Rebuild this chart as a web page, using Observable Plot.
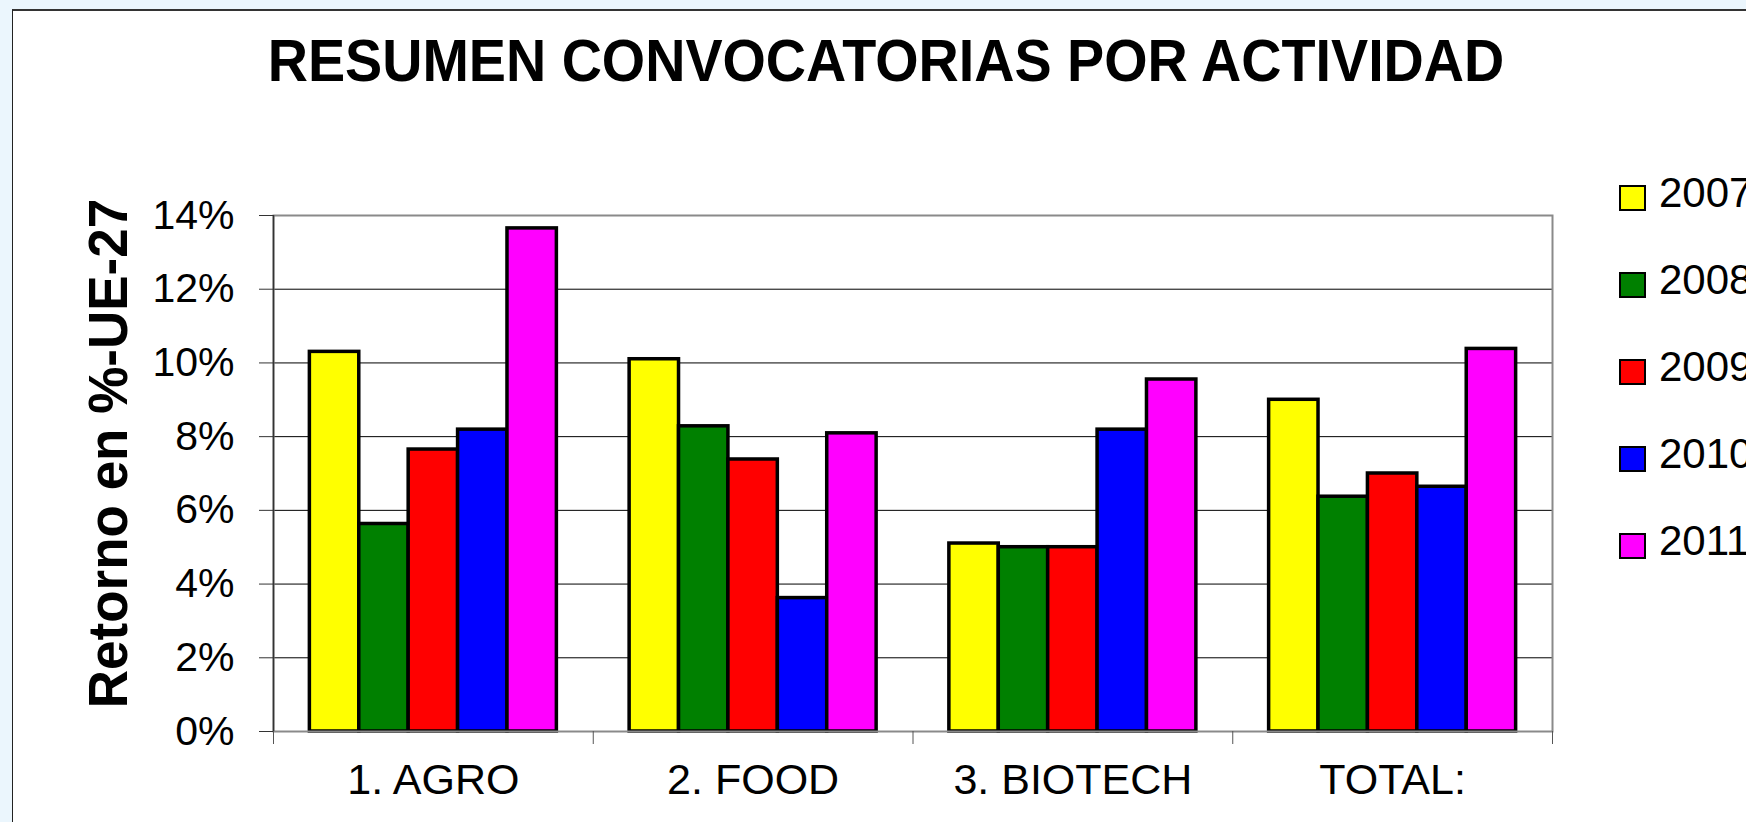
<!DOCTYPE html>
<html>
<head>
<meta charset="utf-8">
<script src="https://cdn.jsdelivr.net/npm/d3@7"></script>
<script src="https://cdn.jsdelivr.net/npm/@observablehq/plot@0.6"></script>
<style>
  html, body { margin: 0; padding: 0; width: 1746px; height: 822px; overflow: hidden; background: #EBF6FD; font-family: "Liberation Sans", Arial, sans-serif; }
  #panel { position: absolute; left: 12px; top: 9px; width: 1800px; height: 900px; background: #fff; border-left: 1px solid #222; border-top: 2px solid #333; }
  #chart { position: absolute; left: 0; top: 0; }
  #title { position: absolute; left: 0; top: 35px; width: 1772px; text-align: center; font-weight: bold; font-size: 55.7px; line-height: 55px; white-space: nowrap; transform: scale(1, 1.06); transform-origin: 50% 47px; color: #000; }
  #ytitle { position: absolute; left: -192px; top: 427px; width: 600px; height: 53px; line-height: 53px; text-align: center; font-weight: bold; font-size: 53px; white-space: nowrap; transform: rotate(-90deg) scale(1, 1.05); color: #000; }
  .lg-sq { position: absolute; width: 27px; height: 26px; box-sizing: border-box; border: 2.5px solid #000; }
  .lg-tx { position: absolute; font-size: 42px; line-height: 42px; white-space: nowrap; color: #000; }
</style>
</head>
<body>
<div id="panel"></div>
<div id="title">RESUMEN CONVOCATORIAS POR ACTIVIDAD</div>
<div id="ytitle">Retorno en %-UE-27</div>
<div id="chart"></div>
<div id="legend"></div>
<script>
// ---- data ----
const categories = ["1. AGRO", "2. FOOD", "3. BIOTECH", "TOTAL:"];
const years = ["2007", "2008", "2009", "2010", "2011"];
const colors = ["#FFFF00", "#008000", "#FF0000", "#0000FF", "#FF00FF"];
const v2007 = [10.3, 10.1, 5.1, 9.0];
const v2008 = [5.63, 8.28, 5.0, 6.37];
const v2009 = [7.65, 7.38, 5.0, 7.0];
const v2010 = [8.19, 3.62, 8.19, 6.64];
const v2011 = [13.65, 8.09, 9.55, 10.38];
const yTicks = [0, 2, 4, 6, 8, 10, 12, 14];

const series = [v2007, v2008, v2009, v2010, v2011];
const rows = [];
categories.forEach((c, ci) => years.forEach((y, yi) => rows.push({category: c, ci, year: y, yi, value: series[yi][ci]})));

// grouped-bar layout (fraction of each category slot used by the bars)
const groupFrac = 0.7725;
const barW = groupFrac / years.length;
const off = (1 - groupFrac) / 2;

const chart = Plot.plot({
  width: 1746,
  height: 822,
  marginLeft: 273,
  marginRight: 194,
  marginTop: 215,
  marginBottom: 91,
  style: {background: "transparent", fontFamily: "'Liberation Sans', Arial, sans-serif", color: "#000"},
  x: {domain: [0, categories.length], label: null},
  y: {domain: [0, 14], label: null},
  color: {domain: years, range: colors},
  marks: [
    Plot.ruleY(yTicks.filter(t => t > 0 && t < 14), {stroke: "#000", strokeWidth: 1}),
    Plot.rect(rows, {
      x1: d => d.ci + off + d.yi * barW,
      x2: d => d.ci + off + (d.yi + 1) * barW,
      y1: d => 0,
      y2: "value",
      fill: "year",
      stroke: "#000",
      strokeWidth: 3.5
    }),
    Plot.frame({stroke: "#8a8a8a", strokeWidth: 2}),
    Plot.ruleX([0], {stroke: "#333", strokeWidth: 1.5}),
    Plot.axisY({ticks: yTicks, tickSize: 14, tickPadding: 25, tickFormat: d => d + "%", fontSize: 41, stroke: "#333", label: null}),
    Plot.axisX({ticks: d3.range(categories.length + 1), tickSize: 13, tickFormat: () => "", stroke: "#555", label: null}),
    Plot.axisX({ticks: categories.map((c, i) => i + 0.5), tickSize: 0, tickPadding: 32, tickFormat: d => categories[Math.floor(d)], fontSize: 43, label: null})
  ]
});
document.getElementById("chart").appendChild(chart);

// ---- legend ----
const legend = document.getElementById("legend");
years.forEach((y, i) => {
  const sq = document.createElement("div");
  sq.className = "lg-sq";
  sq.style.left = "1619px";
  sq.style.top = (185 + 87 * i) + "px";
  sq.style.background = colors[i];
  legend.appendChild(sq);
  const tx = document.createElement("div");
  tx.className = "lg-tx";
  tx.style.left = "1659px";
  tx.style.top = (172 + 87 * i) + "px";
  tx.textContent = y;
  legend.appendChild(tx);
});
</script>
</body>
</html>
